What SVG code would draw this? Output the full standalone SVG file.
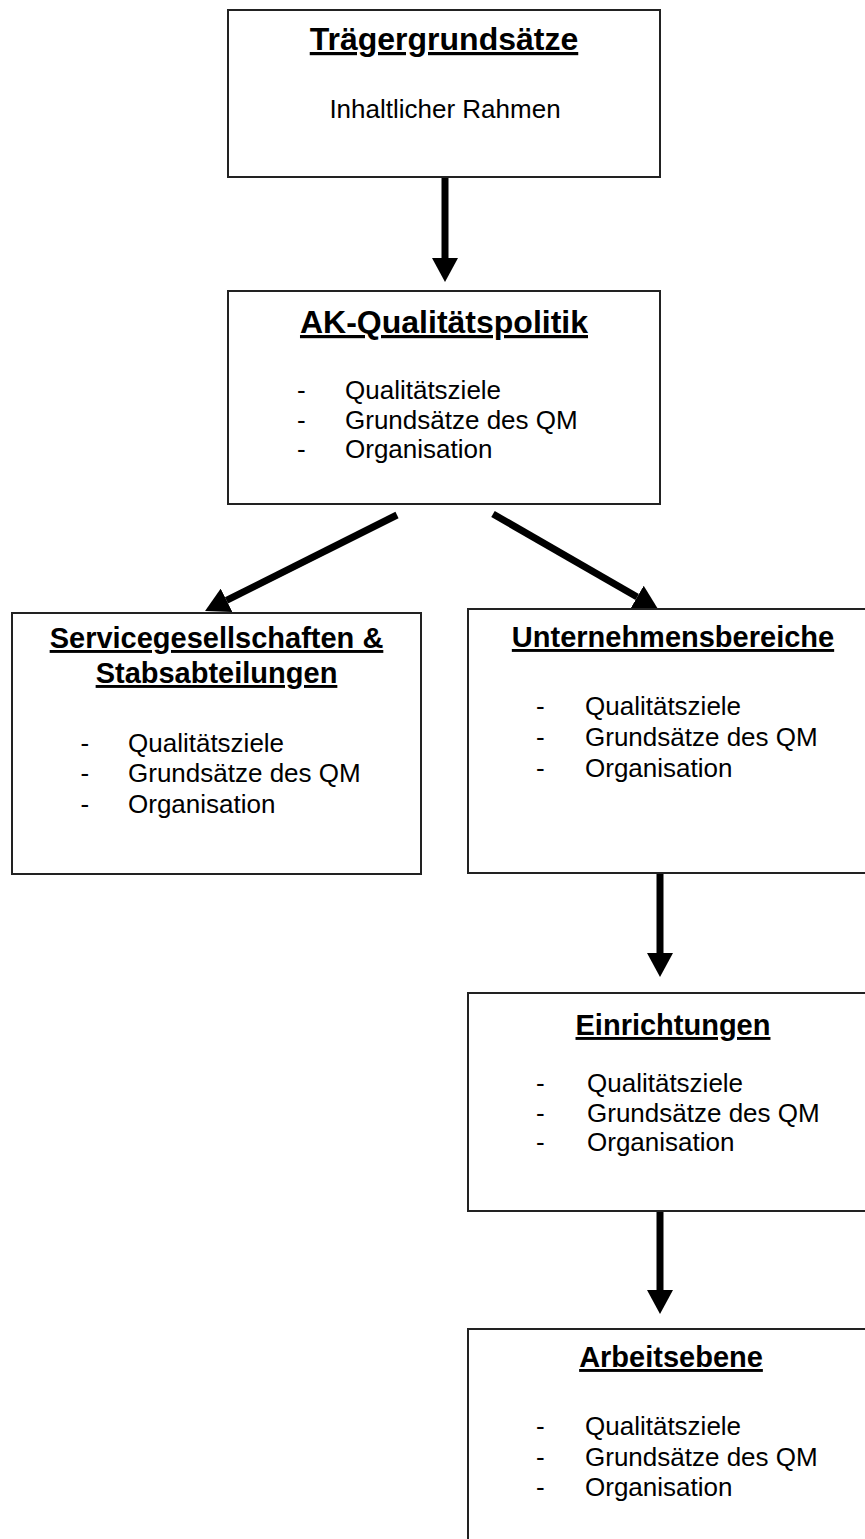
<svg xmlns="http://www.w3.org/2000/svg" width="865" height="1539" viewBox="0 0 865 1539">
<style>
.box{fill:#fff;stroke:#222;stroke-width:2}
.t1{font-family:"Liberation Sans",Arial,sans-serif;font-weight:bold;font-size:32px;text-anchor:middle;text-decoration:underline;fill:#000}
.t2{font-family:"Liberation Sans",Arial,sans-serif;font-weight:bold;font-size:29px;text-anchor:middle;text-decoration:underline;fill:#000}
.b{font-family:"Liberation Sans",Arial,sans-serif;font-size:26px;fill:#000}
.bc{font-family:"Liberation Sans",Arial,sans-serif;font-size:26px;fill:#000;text-anchor:middle}
.arr{stroke:#000;stroke-width:7;fill:none;marker-end:url(#head)}
</style>
<defs>
<marker id="head" viewBox="0 0 24 26" refX="0" refY="13" markerWidth="24" markerHeight="26" markerUnits="userSpaceOnUse" orient="auto">
<path d="M0,0 L24,13 L0,26 z" fill="#000"/>
</marker>
</defs>
<rect width="865" height="1539" fill="#fff"/>
<g id="connectors">
<line class="arr" x1="445" y1="177" x2="445" y2="258"/>
<line class="arr" x1="397" y1="515" x2="226.5" y2="600.3"/>
<line class="arr" x1="493" y1="514" x2="637.2" y2="597"/>
<line class="arr" x1="660" y1="873" x2="660" y2="953"/>
<line class="arr" x1="660" y1="1211" x2="660" y2="1290"/>
</g>
<g id="traegergrundsaetze">
<rect class="box" x="228" y="10" width="432" height="167"/>
<text class="t1" x="444" y="50">Trägergrundsätze</text>
<text class="bc" x="445" y="118">Inhaltlicher Rahmen</text>
</g>
<g id="ak-qualitaetspolitik">
<rect class="box" x="228" y="291" width="432" height="213"/>
<text class="t1" x="444" y="333">AK-Qualitätspolitik</text>
<text class="b" x="297" y="399">-</text><text class="b" x="345" y="399">Qualitätsziele</text>
<text class="b" x="297" y="429">-</text><text class="b" x="345" y="429">Grundsätze des QM</text>
<text class="b" x="297" y="458">-</text><text class="b" x="345" y="458">Organisation</text>
</g>
<g id="servicegesellschaften">
<rect class="box" x="12" y="613" width="409" height="261"/>
<text class="t2" x="216.5" y="648">Servicegesellschaften &amp;</text>
<text class="t2" x="216.5" y="683">Stabsabteilungen</text>
<text class="b" x="80.5" y="752">-</text><text class="b" x="128" y="752">Qualitätsziele</text>
<text class="b" x="80.5" y="782">-</text><text class="b" x="128" y="782">Grundsätze des QM</text>
<text class="b" x="80.5" y="813">-</text><text class="b" x="128" y="813">Organisation</text>
</g>
<g id="unternehmensbereiche">
<rect class="box" x="468" y="609" width="420" height="264"/>
<text class="t2" x="673" y="647">Unternehmensbereiche</text>
<text class="b" x="536" y="715">-</text><text class="b" x="585" y="715">Qualitätsziele</text>
<text class="b" x="536" y="746">-</text><text class="b" x="585" y="746">Grundsätze des QM</text>
<text class="b" x="536" y="777">-</text><text class="b" x="585" y="777">Organisation</text>
</g>
<g id="einrichtungen">
<rect class="box" x="468" y="993" width="420" height="218"/>
<text class="t2" x="673" y="1035">Einrichtungen</text>
<text class="b" x="536" y="1092">-</text><text class="b" x="587" y="1092">Qualitätsziele</text>
<text class="b" x="536" y="1122">-</text><text class="b" x="587" y="1122">Grundsätze des QM</text>
<text class="b" x="536" y="1151">-</text><text class="b" x="587" y="1151">Organisation</text>
</g>
<g id="arbeitsebene">
<rect class="box" x="468" y="1329" width="420" height="260"/>
<text class="t2" x="671" y="1367">Arbeitsebene</text>
<text class="b" x="536" y="1435">-</text><text class="b" x="585" y="1435">Qualitätsziele</text>
<text class="b" x="536" y="1466">-</text><text class="b" x="585" y="1466">Grundsätze des QM</text>
<text class="b" x="536" y="1496">-</text><text class="b" x="585" y="1496">Organisation</text>
</g>
</svg>
